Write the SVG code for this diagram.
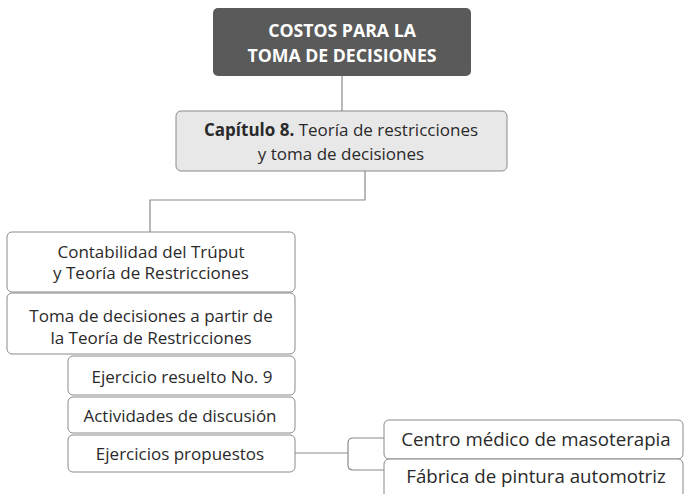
<svg xmlns="http://www.w3.org/2000/svg" width="686" height="494" viewBox="0 0 686 494">
<style>
.box{fill:#ffffff;stroke:#8a8a8a;stroke-width:1}
.t{font-family:"Open Sans","Noto Sans","Liberation Sans",sans-serif;font-size:17px;fill:#2a2a2a;text-anchor:middle}
.tl{font-family:"Open Sans","Noto Sans","Liberation Sans",sans-serif;font-size:18.7px;fill:#2a2a2a;text-anchor:middle}
.wb{font-family:"Open Sans","Noto Sans","Liberation Sans",sans-serif;font-size:17.7px;font-weight:bold;fill:#ffffff;text-anchor:middle}
.c{fill:none;stroke:#8a8a8a;stroke-width:1.2}
</style>
<rect width="686" height="494" fill="#ffffff"/>
<g id="connectors">
<path class="c" d="M342 76V111"/>
<path class="c" d="M365 171V200H150V232"/>
<path class="c" d="M295 453H348"/>
<path class="c" d="M384 438H353Q348 438 348 443V465Q348 470 353 470H384"/>
</g>
<g id="n-root">
<rect x="213" y="8" width="258" height="68" rx="5" fill="#5a5a5a"/>
<text class="wb" x="342" y="37">COSTOS PARA LA</text>
<text class="wb" x="342" y="62">TOMA DE DECISIONES</text>
</g>
<g id="n-cap8">
<rect x="176" y="111" width="331" height="60" rx="5" fill="#e8e8e8" stroke="#8a8a8a" stroke-width="1"/>
<text class="t" x="341" y="136"><tspan font-weight="bold">Capítulo 8.</tspan> Teoría de restricciones</text>
<text class="t" x="341" y="160">y toma de decisiones</text>
</g>
<g id="n-contab">
<rect class="box" x="7" y="232" width="288" height="60" rx="5"/>
<text class="t" x="151" y="258">Contabilidad del Trúput</text>
<text class="t" x="151" y="279">y Teoría de Restricciones</text>
</g>
<g id="n-toma">
<rect class="box" x="7" y="293" width="288" height="61" rx="5"/>
<text class="t" x="151" y="322">Toma de decisiones a partir de</text>
<text class="t" x="151" y="344">la Teoría de Restricciones</text>
</g>
<g id="n-ejres">
<rect class="box" x="68" y="356" width="227" height="39" rx="5"/>
<text class="t" x="182" y="383">Ejercicio resuelto No. 9</text>
</g>
<g id="n-activ">
<rect class="box" x="68" y="397" width="227" height="36" rx="5"/>
<text class="t" x="180" y="422">Actividades de discusión</text>
</g>
<g id="n-ejprop">
<rect class="box" x="68" y="435" width="227" height="37" rx="5"/>
<text class="t" x="180" y="460">Ejercicios propuestos</text>
</g>
<g id="n-centro">
<rect class="box" x="384" y="420" width="299" height="39" rx="5"/>
<text class="tl" x="536" y="446">Centro médico de masoterapia</text>
</g>
<g id="n-fabrica">
<rect class="box" x="384" y="459" width="299" height="45" rx="5"/>
<text class="tl" x="536" y="483">Fábrica de pintura automotriz</text>
</g>
</svg>
